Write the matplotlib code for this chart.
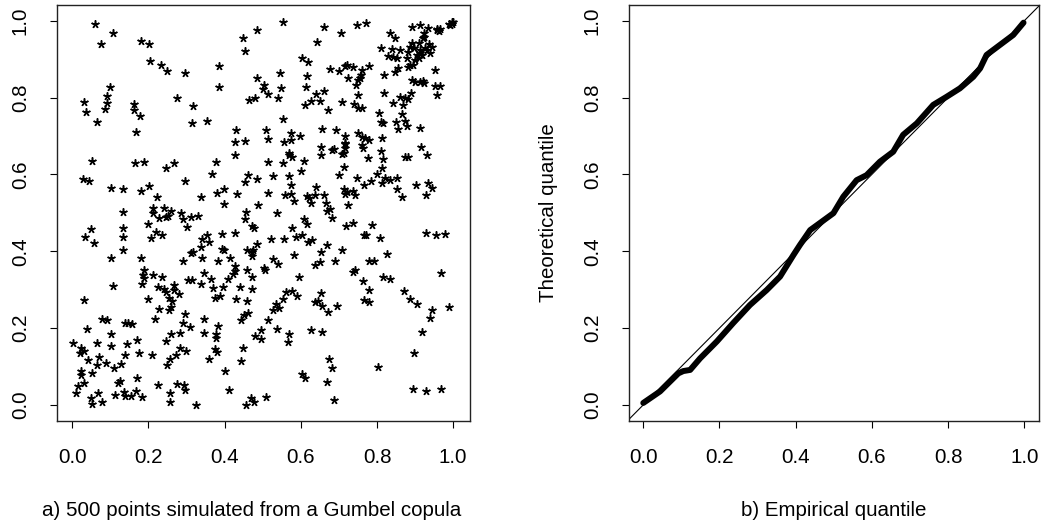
import matplotlib
matplotlib.use("Agg")
import matplotlib.pyplot as plt

# ---- scatter data (u, v) of the 500 Gumbel-copula points, read by region ----
pts_top_left = [(0.060,0.991),(0.107,0.967),(0.075,0.939),(0.181,0.947),(0.201,0.939),(0.203,0.895),
    (0.100,0.828),(0.091,0.805),(0.030,0.788),(0.091,0.787),(0.087,0.770),(0.037,0.762),(0.161,0.782),
    (0.161,0.767),(0.179,0.751),(0.065,0.736),(0.167,0.710)]
pts_top_mid = [(0.447,0.954),(0.453,0.920),(0.233,0.884),(0.250,0.868),(0.295,0.865),(0.384,0.881),
    (0.386,0.827),(0.274,0.798),(0.318,0.778),(0.464,0.793),(0.314,0.733),(0.355,0.739),(0.431,0.716),
    (0.428,0.685),(0.453,0.687)]
pts_top_right = [(0.552,0.996),(0.485,0.975),(0.661,0.985),(0.706,0.967),(0.642,0.944),(0.604,0.904),
    (0.620,0.892),(0.677,0.874),(0.699,0.868),(0.715,0.881),(0.721,0.885),(0.484,0.851),(0.546,0.863),
    (0.616,0.856),(0.725,0.852),(0.503,0.833),(0.500,0.822),(0.549,0.826),(0.614,0.827),(0.515,0.808),
    (0.479,0.798),(0.541,0.798),(0.640,0.808),(0.662,0.816),(0.626,0.790),(0.651,0.790),
    (0.610,0.781),(0.707,0.788),(0.671,0.767),(0.552,0.743),(0.508,0.715),(0.514,0.692),(0.573,0.708),
    (0.573,0.690),(0.597,0.700),(0.555,0.684),(0.656,0.717),(0.691,0.715),(0.715,0.700),(0.715,0.683)]
pts_mid_left = [(0.052,0.636),(0.166,0.629),(0.188,0.633),(0.028,0.587),(0.043,0.584),(0.103,0.565),
    (0.132,0.562),(0.180,0.558),(0.201,0.570),(0.134,0.501),(0.211,0.512),(0.211,0.499),(0.198,0.470),
    (0.050,0.457),(0.034,0.438),(0.057,0.421),(0.134,0.460),(0.134,0.436),(0.206,0.434),(0.134,0.403),
    (0.103,0.382),(0.181,0.382),(0.189,0.350),(0.187,0.338),(0.188,0.330),(0.211,0.338)]
pts_mid_mid = [(0.428,0.650),(0.246,0.616),(0.267,0.629),(0.378,0.631),(0.366,0.600),(0.461,0.598),
    (0.453,0.581),(0.297,0.584),(0.223,0.542),(0.337,0.542),(0.379,0.552),(0.398,0.563),(0.432,0.549),
    (0.398,0.523),(0.242,0.512),(0.258,0.506),(0.252,0.492),(0.246,0.490),(0.229,0.486),(0.286,0.500),
    (0.291,0.483),(0.311,0.488),(0.329,0.492),(0.457,0.502),(0.453,0.483),(0.302,0.462),(0.220,0.451),
    (0.236,0.441),(0.341,0.432),(0.355,0.442),(0.360,0.423),(0.392,0.445),(0.428,0.447),(0.338,0.410),
    (0.318,0.399),(0.313,0.395),(0.392,0.406),(0.398,0.403),(0.459,0.402),(0.340,0.382),(0.292,0.375),
    (0.382,0.375),(0.414,0.383),(0.428,0.362),(0.428,0.349),(0.421,0.340),(0.458,0.351),(0.345,0.344),
    (0.235,0.334)]
pts_mid_right = [(0.653,0.672),(0.652,0.650),(0.681,0.664),(0.686,0.665),(0.716,0.679),(0.716,0.668),
    (0.708,0.652),(0.714,0.657),(0.570,0.657),(0.576,0.646),(0.568,0.650),(0.514,0.633),(0.552,0.629),
    (0.607,0.636),(0.601,0.610),(0.714,0.619),(0.701,0.598),(0.485,0.587),(0.527,0.596),(0.570,0.596),
    (0.575,0.572),(0.640,0.566),(0.712,0.561),(0.721,0.555),(0.715,0.549),(0.513,0.552),(0.559,0.546),
    (0.575,0.549),(0.582,0.531),(0.616,0.544),(0.622,0.538),(0.627,0.526),(0.637,0.546),(0.661,0.546),
    (0.666,0.526),(0.487,0.520),(0.537,0.499),(0.668,0.505),(0.677,0.509),(0.725,0.520),(0.681,0.486),
    (0.607,0.484),(0.617,0.470),(0.471,0.466),(0.478,0.460),(0.578,0.460),(0.719,0.466),(0.521,0.431),
    (0.557,0.431),(0.588,0.438),(0.602,0.442),(0.620,0.425),(0.630,0.429),(0.486,0.418),(0.471,0.399),
    (0.471,0.388),(0.475,0.403),(0.668,0.416),(0.708,0.403),(0.653,0.397),(0.583,0.390),(0.526,0.379),
    (0.541,0.366),(0.651,0.371),(0.637,0.364),(0.690,0.375),(0.504,0.356),(0.506,0.351),(0.473,0.334),
    (0.594,0.334)]
pts_low_left = [(0.182,0.314),(0.108,0.310),(0.032,0.272),(0.200,0.276),(0.078,0.224),(0.092,0.221),
    (0.040,0.198),(0.139,0.213),(0.147,0.213),(0.156,0.210),(0.216,0.224),(0.101,0.184),(0.001,0.161),
    (0.023,0.149),(0.031,0.139),(0.020,0.134),(0.065,0.161),(0.103,0.154),(0.144,0.158),(0.170,0.168),
    (0.139,0.130),(0.174,0.134),(0.210,0.130),(0.069,0.125),(0.042,0.116),(0.065,0.104),(0.089,0.108),
    (0.128,0.106),(0.109,0.095),(0.023,0.087),(0.023,0.078),(0.051,0.082),(0.125,0.062),(0.121,0.056),
    (0.170,0.069),(0.030,0.056),(0.016,0.049),(0.067,0.031),(0.010,0.030),(0.049,0.017),(0.052,0.002),
    (0.078,0.007),(0.112,0.026),(0.137,0.033),(0.138,0.022),(0.154,0.024),(0.167,0.035),(0.184,0.020)]
pts_low_mid = [(0.303,0.325),(0.315,0.325),(0.364,0.328),(0.408,0.328),(0.338,0.314),(0.224,0.306),
    (0.267,0.312),(0.242,0.302),(0.246,0.293),(0.268,0.299),(0.279,0.288),(0.369,0.304),(0.397,0.306),
    (0.440,0.306),(0.254,0.278),(0.261,0.271),(0.258,0.256),(0.254,0.247),(0.374,0.278),(0.389,0.284),
    (0.430,0.276),(0.458,0.271),(0.229,0.249),(0.295,0.236),(0.292,0.213),(0.309,0.202),(0.347,0.223),
    (0.383,0.206),(0.444,0.220),(0.451,0.234),(0.462,0.240),(0.260,0.184),(0.282,0.187),(0.347,0.187),
    (0.378,0.184),(0.378,0.174),(0.245,0.167),(0.283,0.149),(0.299,0.141),(0.375,0.145),(0.381,0.137),
    (0.449,0.149),(0.272,0.130),(0.257,0.120),(0.248,0.104),(0.358,0.120),(0.442,0.114),(0.401,0.088),
    (0.224,0.052),(0.276,0.055),(0.294,0.052),(0.297,0.039),(0.257,0.030),(0.411,0.039),(0.257,0.007),
    (0.324,0.000),(0.455,0.000)]
pts_low_right = [(0.473,0.301),(0.561,0.293),(0.576,0.297),(0.590,0.284),(0.552,0.275),(0.534,0.262),
    (0.526,0.247),(0.543,0.252),(0.652,0.291),(0.638,0.269),(0.645,0.271),(0.655,0.258),(0.670,0.241),
    (0.694,0.258),(0.513,0.221),(0.537,0.198),(0.495,0.195),(0.480,0.180),(0.495,0.171),(0.570,0.184),
    (0.565,0.163),(0.626,0.195),(0.655,0.189),(0.673,0.119),(0.683,0.095),(0.604,0.080),(0.610,0.071),
    (0.669,0.059),(0.687,0.012),(0.470,0.017),(0.476,0.007),(0.509,0.020)]
pts_far_right = [(0.747,0.989),(0.772,0.995),(0.833,0.967),(0.846,0.954),(0.891,0.984),(0.913,0.989),
    (0.935,0.982),(0.922,0.967),(0.922,0.958),(0.920,0.954),(0.958,0.978),(0.966,0.978),(0.962,0.973),
    (0.957,0.976),(0.988,0.991),(0.996,0.996),(1.000,0.997),(0.991,0.988),(0.998,0.991),
    (0.810,0.928),(0.838,0.926),(0.860,0.924),(0.830,0.909),(0.843,0.906),(0.853,0.902),(0.891,0.941),
    (0.887,0.932),(0.896,0.928),(0.909,0.941),(0.913,0.924),(0.918,0.911),(0.904,0.911),(0.909,0.902),
    (0.900,0.897),(0.913,0.915),(0.937,0.939),(0.944,0.932),(0.932,0.924),(0.939,0.915),(0.926,0.928),
    (0.882,0.919),(0.878,0.902),(0.887,0.885),(0.894,0.885),(0.882,0.880),(0.856,0.876),(0.847,0.867),
    (0.817,0.860),(0.780,0.882),(0.760,0.872),(0.758,0.860),(0.756,0.852),(0.751,0.846),(0.745,0.834),
    (0.738,0.880),(0.951,0.872),
    (0.891,0.846),(0.900,0.840),(0.913,0.840),(0.920,0.843),(0.922,0.837),(0.951,0.831),(0.966,0.831),
    (0.957,0.807),(0.817,0.811),(0.751,0.807),(0.740,0.782),(0.749,0.774),(0.760,0.772),(0.843,0.785),
    (0.860,0.802),(0.874,0.800),(0.889,0.811),(0.882,0.796),(0.869,0.781),(0.806,0.759),(0.865,0.756),
    (0.810,0.736),(0.815,0.733),(0.850,0.736),(0.856,0.718),(0.874,0.739),(0.878,0.727),(0.913,0.720),
    (0.749,0.707),(0.760,0.698),(0.769,0.694),(0.778,0.690),(0.760,0.677),(0.764,0.668),(0.812,0.696),
    (0.775,0.642),(0.810,0.662),(0.815,0.639),(0.874,0.646),(0.882,0.644),(0.915,0.672),(0.930,0.650),
    (0.812,0.616),(0.800,0.600),(0.747,0.591),(0.766,0.572),(0.784,0.583),(0.812,0.578),(0.821,0.591),
    (0.833,0.586),(0.853,0.591),(0.902,0.572),(0.933,0.578),(0.944,0.565),(0.929,0.546),(0.852,0.561),
    (0.865,0.542),(0.738,0.557),(0.742,0.546),(0.736,0.473),(0.786,0.468),(0.766,0.441),(0.772,0.441),
    (0.808,0.434),(0.826,0.392),(0.780,0.375),(0.792,0.375),(0.737,0.347),(0.743,0.351),(0.929,0.447),
    (0.955,0.441),(0.978,0.444),(0.968,0.343),(0.815,0.334),(0.833,0.328),(0.762,0.323),(0.780,0.299),
    (0.765,0.273),(0.778,0.269),(0.872,0.297),(0.887,0.276),(0.904,0.263),(0.943,0.247),(0.939,0.226),
    (0.990,0.256),(0.917,0.191),(0.896,0.136),(0.802,0.098),(0.894,0.041),(0.929,0.036),(0.968,0.042)]

# ---- QQ curve: empirical vs theoretical quantile ----
qq_empirical = [0.000, 0.044, 0.092, 0.105, 0.123, 0.149, 0.193, 0.236, 0.280, 0.324, 0.359, 0.394,
                0.411, 0.438, 0.463, 0.499, 0.525, 0.560, 0.586, 0.621, 0.656, 0.682, 0.718, 0.761,
                0.796, 0.831, 0.866, 0.884, 0.901, 0.936, 0.971, 0.998]
qq_theoretical = [0.005, 0.035, 0.082, 0.088, 0.091, 0.121, 0.165, 0.213, 0.260, 0.299, 0.334, 0.390,
                  0.416, 0.455, 0.473, 0.499, 0.542, 0.585, 0.598, 0.633, 0.659, 0.703, 0.733, 0.781,
                  0.802, 0.824, 0.854, 0.876, 0.911, 0.937, 0.963, 0.995]

ticks = [0.0, 0.2, 0.4, 0.6, 0.8, 1.0]
tick_labels = ["0.0", "0.2", "0.4", "0.6", "0.8", "1.0"]

plt.rcParams['font.family'] = ['Liberation Sans', 'DejaVu Sans']
FS = 14.8

all_pts = (pts_top_left + pts_top_mid + pts_top_right + pts_mid_left + pts_mid_mid + pts_mid_right
           + pts_low_left + pts_low_mid + pts_low_right + pts_far_right)
u = [p[0] for p in all_pts]
v = [p[1] for p in all_pts]

W, H = 1043, 524
fig = plt.figure(figsize=(W / 100, H / 100), dpi=100)
ax1 = fig.add_axes([57 / W, 103 / H, 413 / W, 416 / H])
ax2 = fig.add_axes([629 / W, 103 / H, 410 / W, 416 / H])

ax1.plot(u, v, ls='none', marker=(5, 2, 0), ms=5.8, mew=1.1, color='black')
ax1.set_xlim(-0.040, 1.044)
ax1.set_ylim(-0.042, 1.041)

ax2.plot(qq_empirical, qq_theoretical, color='black', lw=4.3,
         solid_capstyle='round', solid_joinstyle='round')
ax2.axline((0, 0), (1, 1), color='black', lw=0.8)
ax2.set_xlim(-0.0375, 1.0386)
ax2.set_ylim(-0.042, 1.041)

for ax in (ax1, ax2):
    ax.set_xticks(ticks)
    ax.set_xticklabels(tick_labels, fontsize=FS)
    ax.set_yticks(ticks)
    ax.set_yticklabels(tick_labels, fontsize=FS, rotation=90, va='center')
    ax.tick_params(direction='out', length=5, width=0.8, pad=14.5, colors='black')
    for s in ax.spines.values():
        s.set_linewidth(1.0)
        s.set_color('#222222')

fig.text(42 / W, 1 - 511 / H, "a) 500 points simulated from a Gumbel copula",
         ha='left', va='center', fontsize=FS)
fig.text(834 / W, 1 - 511 / H, "b) Empirical quantile", ha='center', va='center', fontsize=FS)
fig.text(548 / W, 1 - 213 / H, "Theoretical quantile", ha='center', va='center',
         rotation=90, fontsize=FS)

fig.savefig("out.png", dpi=100)
